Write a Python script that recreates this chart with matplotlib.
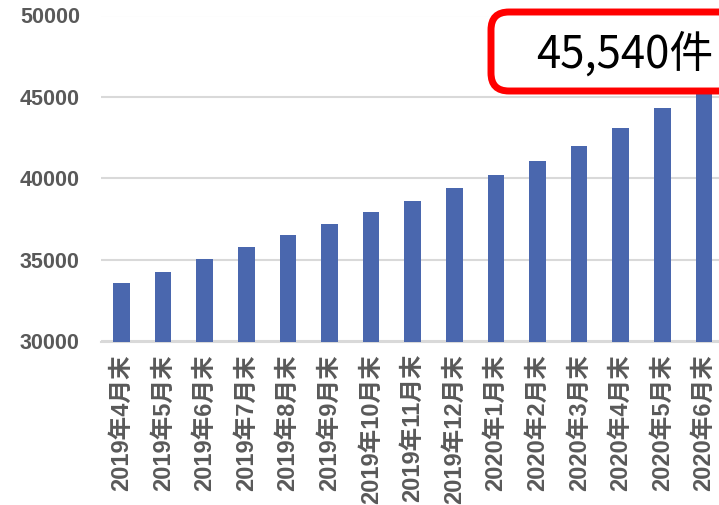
import matplotlib
matplotlib.use("Agg")
import matplotlib.pyplot as plt
from matplotlib.patches import FancyBboxPatch

categories = ["2019年4月末", "2019年5月末", "2019年6月末", "2019年7月末", "2019年8月末",
              "2019年9月末", "2019年10月末", "2019年11月末", "2019年12月末", "2020年1月末",
              "2020年2月末", "2020年3月末", "2020年4月末", "2020年5月末", "2020年6月末"]
values = [33570, 34260, 35060, 35800, 36515, 37190, 37960, 38640, 39420, 40215,
          41070, 41975, 43100, 44340, 45540]
yticks = [30000, 35000, 40000, 45000, 50000]
callout = "45,540件"

W, H = 719, 505
fig = plt.figure(figsize=(W / 100, H / 100), dpi=100)
left = 100.7 / W
width = 15 * 41.6 / W
bottom = 1 - 341.5 / H
top = 1 - 15.5 / H
ax = fig.add_axes([left, bottom, width, top - bottom])

x = list(range(len(categories)))
ax.bar(x, values, width=0.4, color="#4A67AE", zorder=3)
ax.set_xlim(-0.5, len(categories) - 0.5)
ax.set_ylim(30000, 50000)
ax.set_yticks(yticks)
ax.set_yticklabels([str(v) for v in yticks], fontsize=15.5, fontweight="bold",
                   color="#595959", family=["Liberation Sans", "Noto Sans CJK JP"])
ax.set_xticks(x)
ax.set_xticklabels(categories, rotation=90, fontsize=17, fontweight="bold",
                   color="#595959", family=["Liberation Sans", "Noto Sans CJK JP"],
                   va="top", ha="center")
ax.tick_params(axis="both", length=0)
ax.tick_params(axis="x", pad=9)
ax.tick_params(axis="y", pad=15)
ax.yaxis.grid(True, color="#D9D9D9", linewidth=1.5, zorder=0)
for s in ["left", "right", "top"]:
    ax.spines[s].set_visible(False)
ax.spines["bottom"].set_color("#D9D9D9")
ax.spines["bottom"].set_linewidth(1.5)
ax.spines["bottom"].set_zorder(1)

# callout box (pixel coordinates converted to figure fraction)
bx0, by0, bx1, by1 = 491, 12, 745, 91
box = FancyBboxPatch((bx0 / W, 1 - by1 / H), (bx1 - bx0) / W, (by1 - by0) / H,
                     boxstyle="round,pad=0,rounding_size=0.025",
                     transform=fig.transFigure, facecolor="white",
                     edgecolor="#FF0000", linewidth=5, zorder=10,
                     mutation_aspect=W / H)
fig.patches.append(box)
fig.text(625 / W, 1 - 55 / H, callout, fontsize=31.5, color="black",
         family=["Noto Sans CJK JP"], ha="center", va="center", zorder=11)

fig.savefig("out.png", dpi=100)
